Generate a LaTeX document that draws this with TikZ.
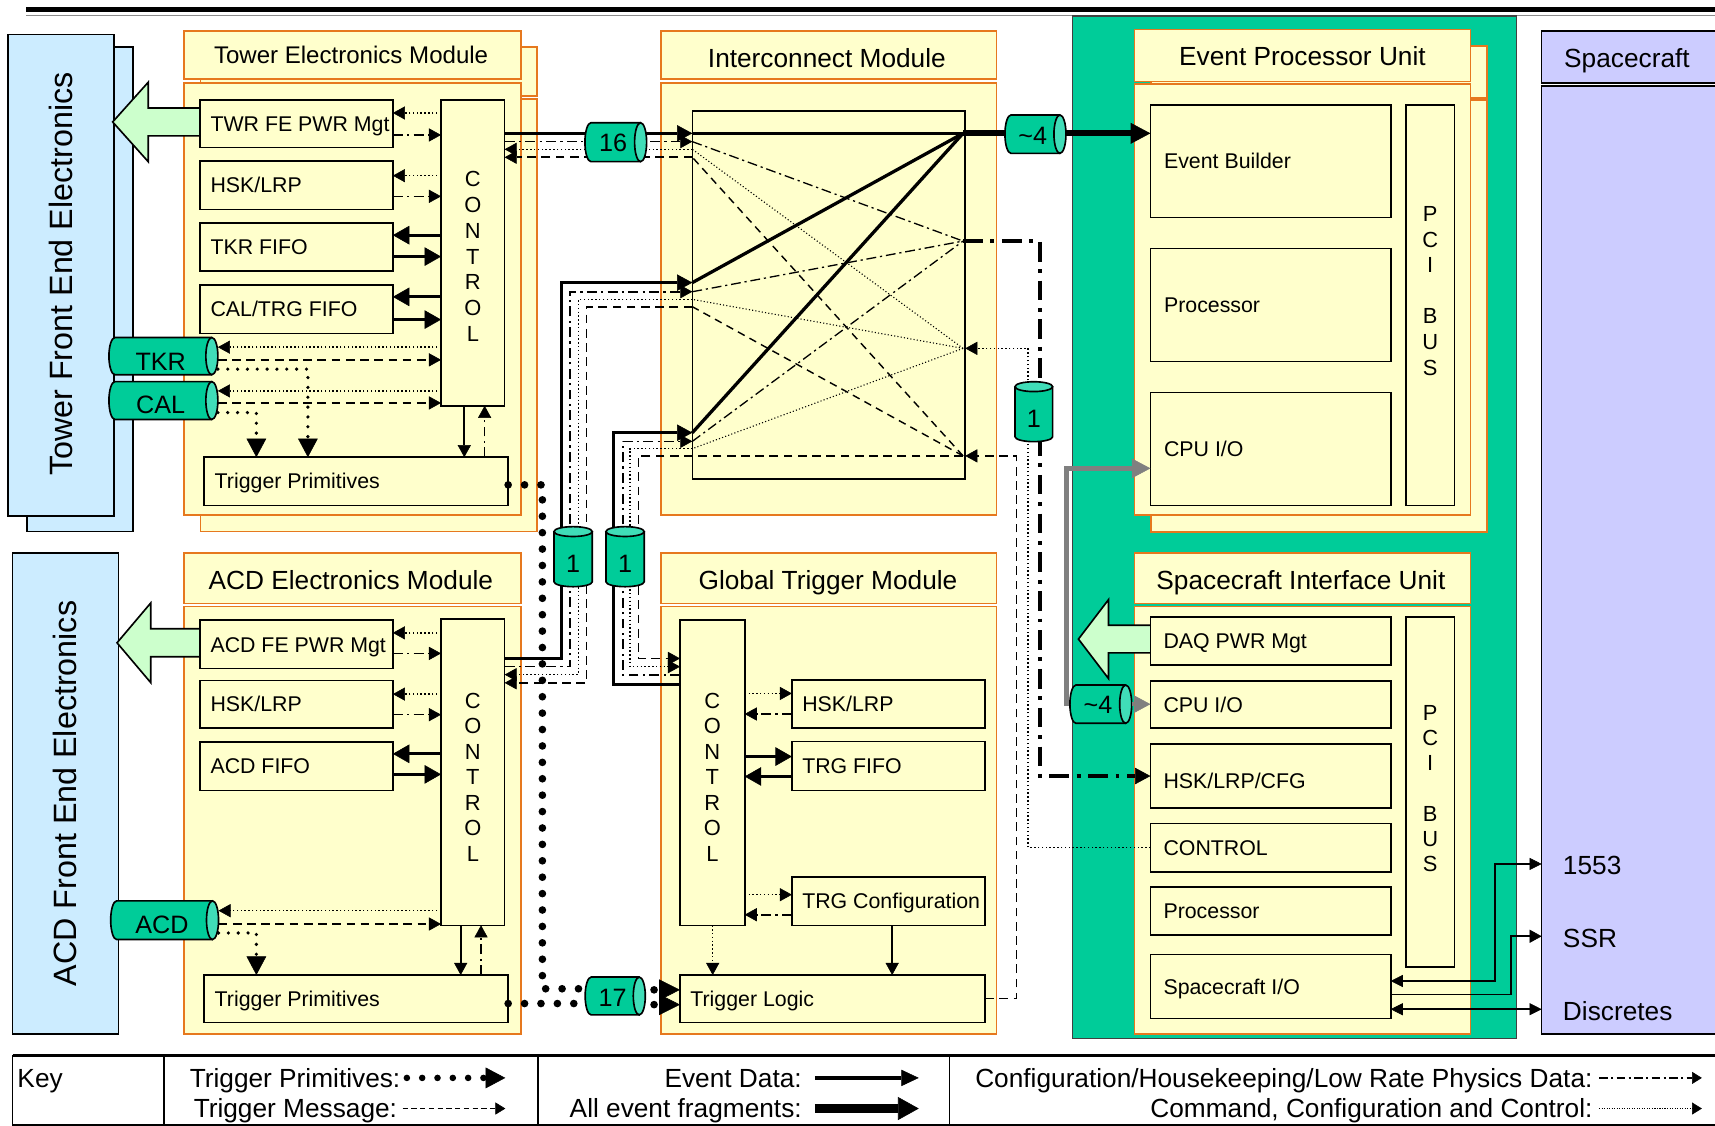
\documentclass[tikz,border=0pt]{standalone}
\usepackage{fontspec}
\setmainfont{Liberation Sans}
\usetikzlibrary{arrows.meta}

\definecolor{cellfill}{HTML}{FFFFCC}
\definecolor{modedge}{RGB}{230,120,30}
\definecolor{febluefill}{HTML}{CCECFF}
\definecolor{daqgreen}{HTML}{00CC99}
\definecolor{capgreen}{HTML}{40DDB8}
\definecolor{pwrgreen}{HTML}{CCFFCC}
\definecolor{scfill}{HTML}{CCCCFF}
\definecolor{linkgray}{HTML}{808080}

\newcommand{\setpx}[2]{\fontsize{#1}{#2}\selectfont}

% box given by its corners (x1,y1)-(x2,y2)
\newcommand{\placebox}[6]{\node[#1, inner sep=0pt, outer sep=0pt, minimum width={(#5)-(#3)}, minimum height={(#6)-(#4)}] (#2) at ({((#3)+(#5))/2},{((#4)+(#6))/2}) {};}

% inner box with a left aligned label
\newcommand{\partbox}[7][9.5]{\placebox{part}{#2}{#3}{#4}{#5}{#6}\node[txt, anchor=west] (#2-t) at ([xshift=#1pt]#2.west) {#7};}

% horizontal cylinder: [label y shift] name, x1, y1, x2, y2, label
\newcommand{\hcyl}[7][0]{%
  \pgfmathsetmacro\cxa{#3+5.5}\pgfmathsetmacro\cxb{#5-5.5}%
  \pgfmathsetmacro\cym{(#4+#6)/2}\pgfmathsetmacro\cry{(#6-#4)/2}%
  \fill[daqgreen] (\cxa,#4) rectangle (\cxb,#6);
  \fill[daqgreen] (\cxa,\cym) ellipse[x radius=5.5pt,y radius=\cry pt];
  \draw[cyledge] (\cxb,#4) -- (\cxa,#4) arc[start angle=90,end angle=270,x radius=5.5pt,y radius=\cry pt] -- (\cxb,#6);
  \draw[cyledge, fill=capgreen] (\cxb,\cym) ellipse[x radius=5.5pt,y radius=\cry pt];
  \placebox{coordbox}{#2}{#3}{#4}{#5}{#6}
  \node[cyltxt] (#2-t) at ({(#3+#5)/2-2.5},{\cym+#1}) {#7};}

% upright cylinder: name, x1, y1, x2, y2, label
\newcommand{\vcyl}[6]{%
  \pgfmathsetmacro\cxm{(#2+#4)/2}\pgfmathsetmacro\crx{(#4-#2)/2}%
  \pgfmathsetmacro\cyt{#3+4.5}\pgfmathsetmacro\cyb{#5-4.5}%
  \fill[daqgreen] (#2,\cyt) rectangle (#4,\cyb);
  \fill[daqgreen] (\cxm,\cyb) ellipse[x radius=\crx pt,y radius=4.5pt];
  \draw[cyledge] (#2,\cyt) -- (#2,\cyb) arc[start angle=180,end angle=360,x radius=\crx pt,y radius=4.5pt] -- (#4,\cyt);
  \draw[cyledge, fill=capgreen] (\cxm,\cyt) ellipse[x radius=\crx pt,y radius=4.5pt];
  \placebox{coordbox}{#1}{#2}{#3}{#4}{#5}
  \node[cyltxt] (#1-t) at (\cxm,{(\cyt+#5)/2+4}) {#6};}

% hollow power arrow pointing left: tip x, centre y, head base x, end x, half shaft, half head
\newcommand{\pwrarrow}[6]{\draw[fill=pwrgreen, line width=1.5pt, line join=miter]
  (#4,#2-#5) -- (#3,#2-#5) -- (#3,#2-#6) -- (#1,#2) -- (#3,#2+#6) -- (#3,#2+#5) -- (#4,#2+#5);}

\tikzset{
  module/.style={draw=modedge, fill=cellfill, line width=1.6pt},
  part/.style={draw=black, fill=cellfill, line width=1.5pt},
  febox/.style={draw=black, fill=febluefill, line width=1.5pt},
  scbox/.style={draw=black, fill=scfill, line width=1.5pt},
  daqzone/.style={draw=black!75, fill=daqgreen, line width=1.2pt},
  coordbox/.style={},
  cyledge/.style={draw=black, line width=1.5pt},
  txt/.style={inner sep=0pt, outer sep=0pt, font=\setpx{19.5}{22}, text height=14pt, text depth=0pt},
  ttl/.style={inner sep=0pt, outer sep=0pt, font=\setpx{24}{28}, text height=17.2pt, text depth=0pt},
  ttls/.style={inner sep=0pt, outer sep=0pt, font=\setpx{22}{26}, text height=15.8pt, text depth=0pt},
  fetxt/.style={inner sep=0pt, outer sep=0pt, font=\setpx{29.5}{34}, text height=21.1pt, text depth=0pt, rotate=90},
  cyltxt/.style={inner sep=0pt, outer sep=0pt, font=\setpx{23}{27}, text height=16.5pt, text depth=0pt},
  vert/.style={inner sep=0pt, outer sep=0pt, align=center},
  plain/.style={line width=1.5pt},
  evt/.style={line width=3pt},
  frag/.style={line width=5.5pt},
  cfg/.style={line width=1.5pt, dash pattern=on 9pt off 4pt on 2pt off 4pt},
  cfgthin/.style={line width=1.2pt, dash pattern=on 9pt off 3.5pt on 2pt off 3.5pt},
  cfgbold/.style={line width=3.2pt, dash pattern=on 18pt off 7pt on 3.5pt off 7pt},
  cmd/.style={line width=1.3pt, dash pattern=on 1.3pt off 2.2pt},
  cmdthin/.style={line width=1pt, dash pattern=on 1pt off 2pt},
  msg/.style={line width=1.5pt, dash pattern=on 8pt off 5pt},
  msgthin/.style={line width=1.3pt, dash pattern=on 7pt off 5pt},
  prim/.style={line width=3.3pt, line cap=round, dash pattern=on 0pt off 9pt},
  bigprim/.style={line width=7pt, line cap=round, dash pattern=on 0pt off 15pt},
  graylink/.style={line width=4pt, draw=linkgray},
  ah/.style={-{Triangle[length=11pt,width=12pt,line width=0.5pt]}},
  ahT/.style={-{Triangle[length=15pt,width=17pt,line width=0.5pt]}},
  ahI/.style={-{Triangle[length=14pt,width=15pt,line width=0.5pt]}},
  ahP/.style={-{Triangle[length=17pt,width=18pt,line width=0.5pt]}},
  ahL/.style={-{Triangle[length=19pt,width=19pt,line width=0.5pt]}},
  ahE/.style={-{Triangle[length=18pt,width=19pt,line width=0.5pt]}},
  dbl/.style={{Triangle[length=11pt,width=11pt,line width=0.5pt]}-{Triangle[length=11pt,width=11pt,line width=0.5pt]}},
}

\begin{document}
\begin{tikzpicture}[x=1pt,y=-1pt]
\useasboundingbox (0,0) rectangle (1568,1029);

% heading rule
\draw[line width=4.5pt] (24,9) -- (1600,9);
\draw[line width=1.2pt, black!45] (24,14) -- (1600,14);

% front-end electronics
\placebox{febox}{twrfe-back}{24.5}{43}{121.5}{486}
\placebox{febox}{twrfe}{7.2}{31.5}{104.5}{472}
\placebox{febox}{acdfe}{11.4}{505.8}{108.4}{945.4}
\node[fetxt] (twrfe-t) at (55.5,250.5) {Tower Front End Electronics};
\node[fetxt] (acdfe-t) at (59.5,725.5) {ACD Front End Electronics};

% electronics modules
\placebox{module}{twr-hd-back}{183.2}{43}{491}{87.5}
\placebox{module}{twr-bd-back}{183.2}{90.6}{491}{486}
\placebox{module}{twr-hd}{168.2}{28.3}{476}{72.5}
\placebox{module}{twr-bd}{168.2}{75.6}{476}{470.7}
\placebox{module}{im-hd}{604}{28.3}{911.1}{72.5}
\placebox{module}{im-bd}{604}{75.6}{911.1}{470.7}
\placebox{module}{acd-hd}{168.2}{505.8}{476}{551.8}
\placebox{module}{acd-bd}{168.2}{554.5}{476}{945.4}
\placebox{module}{gtm-hd}{604}{505.8}{911.1}{551.8}
\placebox{module}{gtm-bd}{604}{554.5}{911.1}{945.4}

% data acquisition crate
\placebox{daqzone}{daq}{980.7}{14.5}{1386.6}{949.4}
\placebox{module}{epu-hd-back}{1052.2}{42}{1359.5}{89.5}
\placebox{module}{epu-bd-back}{1052.2}{91.5}{1359.5}{486.5}
\placebox{module}{epu-hd}{1037.2}{27}{1344.5}{74.5}
\placebox{module}{epu-bd}{1037.2}{76.5}{1344.5}{471}
\placebox{module}{siu-hd}{1037.2}{505.8}{1344.5}{551.8}
\placebox{module}{siu-bd}{1037.2}{554.5}{1344.5}{945.4}

% spacecraft
\placebox{scbox}{sc-hd}{1409.5}{28.3}{1600}{75.6}
\placebox{scbox}{sc-bd}{1409.5}{78.7}{1600}{945.4}

% titles
\node[ttls] (twr-title) at (321,50.4) {Tower Electronics Module};
\node[ttl] (im-title) at (756,53) {Interconnect Module};
\node[ttl] (epu-title) at (1190.8,51.5) {Event Processor Unit};
\node[ttl] (sc-title) at (1487.5,53) {Spacecraft};
\node[ttl] (acd-title) at (320.8,530) {ACD Electronics Module};
\node[ttl] (gtm-title) at (757,530) {Global Trigger Module};
\node[ttl] (siu-title) at (1189.4,530) {Spacecraft Interface Unit};

% power management arrows
\pwrarrow{103}{111.5}{135.5}{183}{12.7}{36.3}
\pwrarrow{107}{587.7}{137.8}{183}{12.8}{36.4}
\pwrarrow{986}{584.3}{1013.5}{1051.8}{12.6}{36.1}

% tower electronics
\partbox{twrpwr}{183}{91.3}{359.2}{134.8}{TWR FE PWR Mgt}
\partbox{twrhsk}{183}{147.4}{359.2}{191.4}{HSK/LRP}
\partbox{tkrfifo}{183}{204}{359.2}{248}{TKR FIFO}
\partbox{calfifo}{183}{260.7}{359.2}{304.8}{CAL/TRG FIFO}
\partbox{twrtp}{186.8}{418}{464.6}{462}{Trigger Primitives}
\placebox{part}{twrctl}{403.2}{91.3}{461.4}{371}
\node[vert, font=\setpx{20}{23.6}] (twrctl-t) at (432.3,234.5) {C\\O\\N\\T\\R\\O\\L};

% ACD electronics
\partbox{acdpwr}{183}{567}{359.2}{611.3}{ACD FE PWR Mgt}
\partbox{acdhsk}{183}{622}{359.2}{665.8}{HSK/LRP}
\partbox{acdfifo}{183}{678.6}{359.2}{722.6}{ACD FIFO}
\partbox{acdtp}{186.8}{891.4}{464.6}{934.8}{Trigger Primitives}
\placebox{part}{acdctl}{403.2}{565.8}{461.4}{846}
\node[vert, font=\setpx{20}{23.3}] (acdctl-t) at (432.3,710.6) {C\\O\\N\\T\\R\\O\\L};

% interconnect switch
\placebox{part}{imx}{633}{101.4}{882.5}{438.2}

% global trigger
\placebox{part}{gtmctl}{621.7}{567}{680.9}{846}
\node[vert, font=\setpx{20}{23.3}] (gtmctl-t) at (651.3,710.6) {C\\O\\N\\T\\R\\O\\L};
\partbox{gtmhsk}{724}{621.9}{900.7}{665.8}{HSK/LRP}
\partbox{trgfifo}{724}{678}{900.7}{722.6}{TRG FIFO}
\partbox{trgcfg}{724}{802}{900.7}{846}{TRG Configuration}
\partbox{trglogic}{621.7}{891.4}{900.7}{934.8}{Trigger Logic}

% event processor unit
\partbox[12.5]{evb}{1051.8}{96}{1271.5}{199}{Event Builder}
\partbox[12.5]{eproc}{1051.8}{227.3}{1271.5}{330.6}{Processor}
\partbox[12.5]{ecpu}{1051.8}{359}{1271.5}{462.2}{CPU I/O}
\placebox{part}{epci}{1285.3}{96}{1329.8}{462.2}
\node[vert, font=\setpx{20}{23.4}] (epci-t) at (1307.6,266) {P\\C\\I\\[23.4pt]B\\U\\S};

% spacecraft interface unit
\partbox[12]{daqpwr}{1051.8}{564}{1271.5}{608}{DAQ PWR Mgt}
\partbox[12]{scpu}{1051.8}{622.5}{1271.5}{665.8}{CPU I/O}
\placebox{part}{shsk}{1051.8}{680.1}{1271.5}{738.8}
\node[txt, anchor=west] (shsk-t) at ([xshift=12pt,yshift=-4pt]shsk.west) {HSK/LRP/CFG};
\partbox[12]{sctl}{1051.8}{752.9}{1271.5}{797}{CONTROL}
\partbox[12]{sproc}{1051.8}{811.1}{1271.5}{855.1}{Processor}
\partbox[12]{sio}{1051.8}{872.6}{1271.5}{931.3}{Spacecraft I/O}
\placebox{part}{spci}{1285.3}{564}{1329.8}{884.2}
\node[vert, font=\setpx{20}{23.1}] (spci-t) at (1307.6,720.9) {P\\C\\I\\[23.1pt]B\\U\\S};

% ---- tower module internal links
\draw[cmd,ah] (twrctl.west |- 0,103.3) -- (twrpwr.east |- 0,103.3);
\draw[cfg,ah] (twrpwr.east |- 0,123.4) -- (twrctl.west |- 0,123.4);
\draw[cmd,ah] (twrctl.west |- 0,160.6) -- (twrhsk.east |- 0,160.6);
\draw[cfg,ah] (twrhsk.east |- 0,179.5) -- (twrctl.west |- 0,179.5);
\draw[evt,ahT] (twrctl.west |- 0,215) -- (tkrfifo.east |- 0,215);
\draw[evt,ahT] (tkrfifo.east |- 0,234.6) -- (twrctl.west |- 0,234.6);
\draw[evt,ahT] (twrctl.west |- 0,271.4) -- (calfifo.east |- 0,271.4);
\draw[evt,ahT] (calfifo.east |- 0,292.2) -- (twrctl.west |- 0,292.2);
\draw[plain,ah] (twrctl.south -| 424.5,0) -- (twrtp.north -| 424.5,0);
\draw[cfg,ah] (twrtp.north -| 443.1,0) -- (twrctl.south -| 443.1,0);

% ---- ACD module internal links
\draw[cmd,ah] (acdctl.west |- 0,578.6) -- (acdpwr.east |- 0,578.6);
\draw[cfg,ah] (acdpwr.east |- 0,597.4) -- (acdctl.west |- 0,597.4);
\draw[cmd,ah] (acdctl.west |- 0,634.6) -- (acdhsk.east |- 0,634.6);
\draw[cfg,ah] (acdhsk.east |- 0,653.4) -- (acdctl.west |- 0,653.4);
\draw[evt,ahT] (acdctl.west |- 0,689.2) -- (acdfifo.east |- 0,689.2);
\draw[evt,ahT] (acdfifo.east |- 0,708) -- (acdctl.west |- 0,708);
\draw[plain,ah] (acdctl.south -| 421.2,0) -- (acdtp.north -| 421.2,0);
\draw[cfg,ah] (acdtp.north -| 439.8,0) -- (acdctl.south -| 439.8,0);

% ---- global trigger internal links
\draw[cmd,ah] (gtmctl.east |- 0,634) -- (gtmhsk.west |- 0,634);
\draw[cfg,ah] (gtmhsk.west |- 0,652.8) -- (gtmctl.east |- 0,652.8);
\draw[evt,ahT] (gtmctl.east |- 0,691.7) -- (trgfifo.west |- 0,691.7);
\draw[evt,ahT] (trgfifo.west |- 0,709.9) -- (gtmctl.east |- 0,709.9);
\draw[cmd,ah] (gtmctl.east |- 0,818) -- (trgcfg.west |- 0,818);
\draw[cfg,ah] (trgcfg.west |- 0,836.3) -- (gtmctl.east |- 0,836.3);
\draw[cmd,ah] (gtmctl.south -| 651.6,0) -- (trglogic.north -| 651.6,0);
\draw[plain,ah] (trgcfg.south -| 815.7,0) -- (trglogic.north -| 815.7,0);

% ---- switch fan-out points
\coordinate (r1) at (880.5,121.9);
\coordinate (r2) at (880.5,220.4);
\coordinate (r3) at (880.5,318.5);
\coordinate (r4) at (880.5,416.8);

% tower <-> interconnect
\draw[evt,ahI] (twrctl.east |- 0,121.9) -- (imx.west |- 0,121.9);
\draw[cfg,ah] (twrctl.east |- 0,129.5) -- (imx.west |- 0,129.5);
\draw[cmd,ah] (imx.west |- 0,136.5) -- (twrctl.east |- 0,136.5);
\draw[msg,ah] (imx.west |- 0,143.8) -- (twrctl.east |- 0,143.8);

% ACD <-> interconnect
\draw[evt,ahI] (acdctl.east |- 0,601.9) -- (513.5,601.9) -- (513.5,258.4) -- (imx.west |- 0,258.4);
\draw[cfg,ah] (acdctl.east |- 0,609.5) -- (521.1,609.5) -- (521.1,266.7) -- (imx.west |- 0,266.7);
\draw[cmd,ah] (imx.west |- 0,273.7) -- (528.7,273.7) -- (528.7,616.8) -- (acdctl.east |- 0,616.8);
\draw[msg,ah] (imx.west |- 0,280.4) -- (536.3,280.4) -- (536.3,624.3) -- (acdctl.east |- 0,624.3);

% global trigger <-> interconnect
\draw[evt,ahI] (gtmctl.west |- 0,626) -- (560.7,626) -- (560.7,395.6) -- (imx.west |- 0,395.6);
\draw[cfg,ah] (gtmctl.west |- 0,617.1) -- (569.3,617.1) -- (569.3,403.5) -- (imx.west |- 0,403.5);
\draw[cmd,ah] (imx.west |- 0,410.2) -- (576,410.2) -- (576,609.5) -- (gtmctl.west |- 0,609.5);
\draw[msg,ah] (r4) -- (imx.west |- 0,416.8) -- (583.6,416.8) -- (583.6,602) -- (gtmctl.west |- 0,602);

% switch fabric
\draw[evt] (imx.west |- 0,121.9) -- (r1);
\draw[evt] (imx.west |- 0,258.4) -- (r1);
\draw[evt] (imx.west |- 0,395.6) -- (r1);
\draw[cfgthin] (imx.west |- 0,129.5) -- (r2);
\draw[cfgthin] (imx.west |- 0,266.7) -- (r2);
\draw[cfgthin] (imx.west |- 0,403.5) -- (r2);
\draw[cmdthin] (r3) -- (imx.west |- 0,136.5);
\draw[cmdthin] (r3) -- (imx.west |- 0,273.7);
\draw[cmdthin] (r3) -- (imx.west |- 0,410.2);
\draw[msgthin] (r4) -- (imx.west |- 0,143.8);
\draw[msgthin] (r4) -- (imx.west |- 0,280.4);

% interconnect <-> DAQ crate
\draw[frag,ahE] (r1) -- (evb.west |- 0,121.9);
\draw[cfgbold,ahI] (r2) -- (950.8,220.4) -- (950.8,709.5) -- (shsk.west |- 0,709.5);
\draw[cmd,ah] (sctl.west |- 0,775) -- (940,775) -- (940,318.5) -- (imx.east |- 0,318.5);
\draw[msg,ah] (trglogic.east |- 0,913) -- (929.5,913) -- (929.5,416.8) -- (imx.east |- 0,416.8);

% cables at the front ends and the trigger input
\hcyl[4.5]{tkr}{99.6}{308.6}{199.2}{342.6}{TKR}
\hcyl[4]{cal}{99.6}{348.9}{199.2}{383.5}{CAL}
\hcyl[4]{acdcyl}{101.2}{823.6}{199.8}{859}{ACD}
\hcyl[1.5]{cyl17}{535}{893.3}{590}{927.9}{17}

% trigger primitives to the global trigger
\draw[prim,ahP] (tkr.east |- 0,337.5) -| (twrtp.north -| 281.5,0);
\draw[cmd,ah] (twrctl.west |- 0,317.4) -- (tkr.east |- 0,317.4);
\draw[msg,ah] (tkr.east |- 0,329) -- (twrctl.west |- 0,329);
\draw[cmd,ah] (twrctl.west |- 0,357.4) -- (cal.east |- 0,357.4);
\draw[msg,ah] (cal.east |- 0,368.4) -- (twrctl.west |- 0,368.4);
\draw[prim,ahP] (cal.east |- 0,377.2) -| (twrtp.north -| 234.4,0);
\draw[cmd,ah] (acdctl.west |- 0,832.6) -- (acdcyl.east |- 0,832.6);
\draw[msg,ah] (acdcyl.east |- 0,844.8) -- (acdctl.west |- 0,844.8);
\draw[prim,ahP] (acdcyl.east |- 0,853) -| (acdtp.north -| 234.4,0);
\draw[bigprim] (twrtp.east |- 0,443.3) -- (495.9,443.3) -- (495.9,904) -- (cyl17.west |- 0,904);
\draw[bigprim] (acdtp.east |- 0,917.5) -- (cyl17.west |- 0,917.5);
\draw[bigprim,ahL,dash phase=7pt] (cyl17.east |- 0,905) -- (trglogic.west |- 0,905);
\draw[bigprim,ahL,dash phase=7pt] (cyl17.east |- 0,918.5) -- (trglogic.west |- 0,918.5);

% cables on the bundles
\hcyl{cyl16}{534.8}{112.2}{591.2}{147.8}{16}
\hcyl[1.5]{evtcyl}{918.8}{105.1}{974.6}{140.2}{\textasciitilde4}
\vcyl{cylA}{506.5}{481.5}{541.5}{536.4}{1}
\vcyl{cylB}{554}{481.5}{589}{536.4}{1}
\vcyl{cylC}{928}{349}{962.4}{403.8}{1}

% spacecraft links
\draw[plain,dbl] (sio.east |- 0,896.9) -- (1366.6,896.9) -- (1366.6,789.9) -- (sc-bd.west |- 0,789.9);
\draw[plain,ah] (sio.east |- 0,909.3) -- (1381.2,909.3) -- (1381.2,856) -- (sc-bd.west |- 0,856);
\draw[plain,dbl] (sio.east |- 0,922.7) -- (sc-bd.west |- 0,922.7);
\node[ttl, anchor=west] (l1553) at (1429,791) {1553};
\node[ttl, anchor=west] (lssr) at (1429,858) {SSR};
\node[ttl, anchor=west] (ldisc) at (1429,924) {Discretes};

% CPU link between the processor units
\draw[graylink,-{Triangle[length=17pt,width=18pt,line width=0.5pt]}] (978.2,643.8) -- (975.2,643.8) -- (975.2,428.2) -- (ecpu.west |- 0,428.2);
\hcyl{scyl}{978.2}{626.3}{1034.7}{661.3}{\textasciitilde4}
\draw[graylink,-{Triangle[length=15pt,width=16pt,line width=0.5pt]}] (scyl.east) -- (scpu.west |- scyl.east);

% key
\draw[line width=2.2pt] (11.5,965) -- (1600,965);
\draw[line width=1.5pt] (11.5,965) -- (11.5,1040);
\draw[line width=1.5pt] (11.5,1028.5) -- (1600,1028.5);
\draw[line width=1.2pt] (150,965) -- (150,1040);
\draw[line width=1.2pt] (492,965) -- (492,1040);
\draw[line width=1.2pt] (868,965) -- (868,1040);
\node[ttl, anchor=west] (key-t) at (16,985.5) {Key};
\node[ttl, anchor=east] (key-prim) at (366,985.5) {Trigger Primitives:};
\node[ttl, anchor=east] (key-msg) at (363,1013.5) {Trigger Message:};
\node[ttl, anchor=east] (key-evt) at (733,985.5) {Event Data:};
\node[ttl, anchor=east] (key-frag) at (733,1013.5) {All event fragments:};
\node[ttl, anchor=east] (key-cfg) at (1456,985.5) {Configuration/Housekeeping/Low Rate Physics Data:};
\node[ttl, anchor=east] (key-cmd) at (1456,1013.5) {Command, Configuration and Control:};
\coordinate (key-prim-e) at (462,985.5);
\coordinate (key-msg-e) at (462,1013.5);
\coordinate (key-evt-e) at (840,985.5);
\coordinate (key-frag-e) at (840,1013.5);
\coordinate (key-cfg-e) at (1556,985.5);
\coordinate (key-cmd-e) at (1556,1013.5);
\draw[line width=6pt, line cap=round, dash pattern=on 0pt off 14pt, -{Triangle[length=18pt,width=19pt,line width=0.5pt]}] ([xshift=6pt]key-prim.east) -- (key-prim-e);
\draw[line width=1.5pt, dash pattern=on 5pt off 3pt, -{Triangle[length=9pt,width=11pt,line width=0.5pt]}] ([xshift=5pt]key-msg.east) -- (key-msg-e);
\draw[line width=3.7pt, -{Triangle[length=16pt,width=15pt,line width=0.5pt]}] ([xshift=12pt]key-evt.east) -- (key-evt-e);
\draw[line width=7.5pt, -{Triangle[length=19pt,width=21pt,line width=0.5pt]}] ([xshift=12pt]key-frag.east) -- (key-frag-e);
\draw[line width=1.5pt, dash pattern=on 8pt off 3pt on 2pt off 3pt, -{Triangle[length=9pt,width=11pt,line width=0.5pt]}] ([xshift=6pt]key-cfg.east) -- (key-cfg-e);
\draw[line width=1pt, dash pattern=on 1pt off 1.3pt, -{Triangle[length=9pt,width=11pt,line width=0.5pt]}] ([xshift=6pt]key-cmd.east) -- (key-cmd-e);
\end{tikzpicture}
\end{document}
